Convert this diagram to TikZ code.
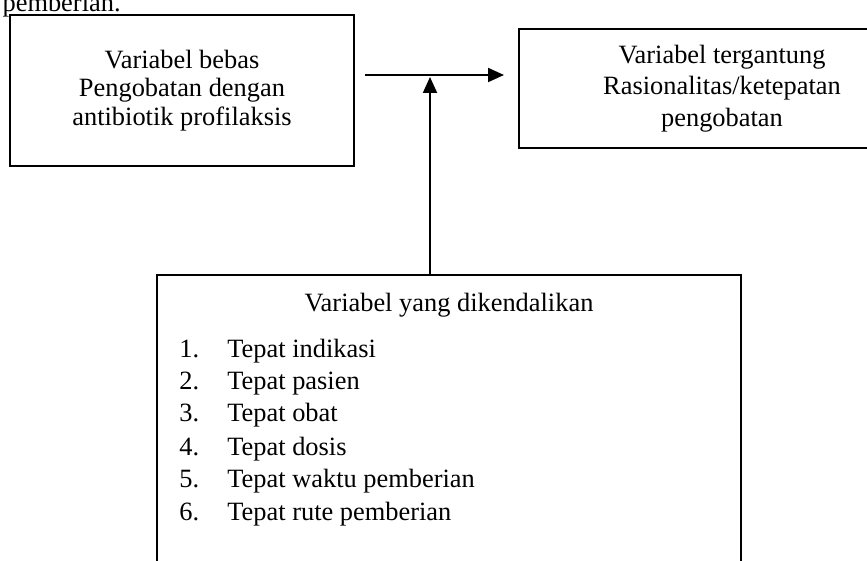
\documentclass[tikz,border=0pt]{standalone}
\usepackage{fontspec}
\setmainfont{Liberation Serif}
\usepackage{tikz}
\usetikzlibrary{arrows.meta}

\tikzset{
    kotak/.style={draw, line width=1.2pt, rectangle, align=center, inner sep=0pt},
    panah/.style={line width=1pt, -{Triangle[length=8pt,width=7pt]}},
    teks/.style={inner sep=0pt, font=\fontsize{13.2}{15}\selectfont}
}

\begin{document}
\begin{tikzpicture}[x=0.5pt,y=-0.5pt]
                \clip (0,0) rectangle (867,561);
                \node [teks, anchor=base east] (sisa) at (121,12) {pemberian.};
                \node [kotak, teks, minimum width=172pt, minimum height=75.5pt,
                       font=\fontsize{13.2}{14.2}\selectfont] (bebas) at (182,90.5)
                      {Variabel bebas\\Pengobatan dengan\\antibiotik profilaksis};
                \node [kotak, teks, minimum width=203pt, minimum height=59.5pt,
                       font=\fontsize{13.2}{15.8}\selectfont] (terikat) at (722,88.5)
                      {Variabel tergantung\\Rasionalitas/ketepatan\\pengobatan};
                \node [kotak, minimum width=292pt, minimum height=182.5pt] (kendali) at (449,457.5) {};
                \node [teks, anchor=base] (judul) at (449,312) {Variabel yang dikendalikan};
                \foreach \i/\isi/\y in {1/Tepat indikasi/357, 2/Tepat pasien/389, 3/Tepat obat/421,
                                        4/Tepat dosis/455, 5/Tepat waktu pemberian/487, 6/Tepat rute pemberian/520} {
                    \node [teks, anchor=base west] (no\i) at (179,\y) {\i.};
                    \node [teks, anchor=base west] (butir\i) at (227,\y) {\isi};
                }
                \coordinate (awal) at (365,75);
                \coordinate (ujung) at (504,75);
                \coordinate (temu) at (430,77);
                \draw [panah] (awal) to (ujung);
                \draw [panah] (temu |- kendali.north) to (temu);
            \end{tikzpicture}
\end{document}
